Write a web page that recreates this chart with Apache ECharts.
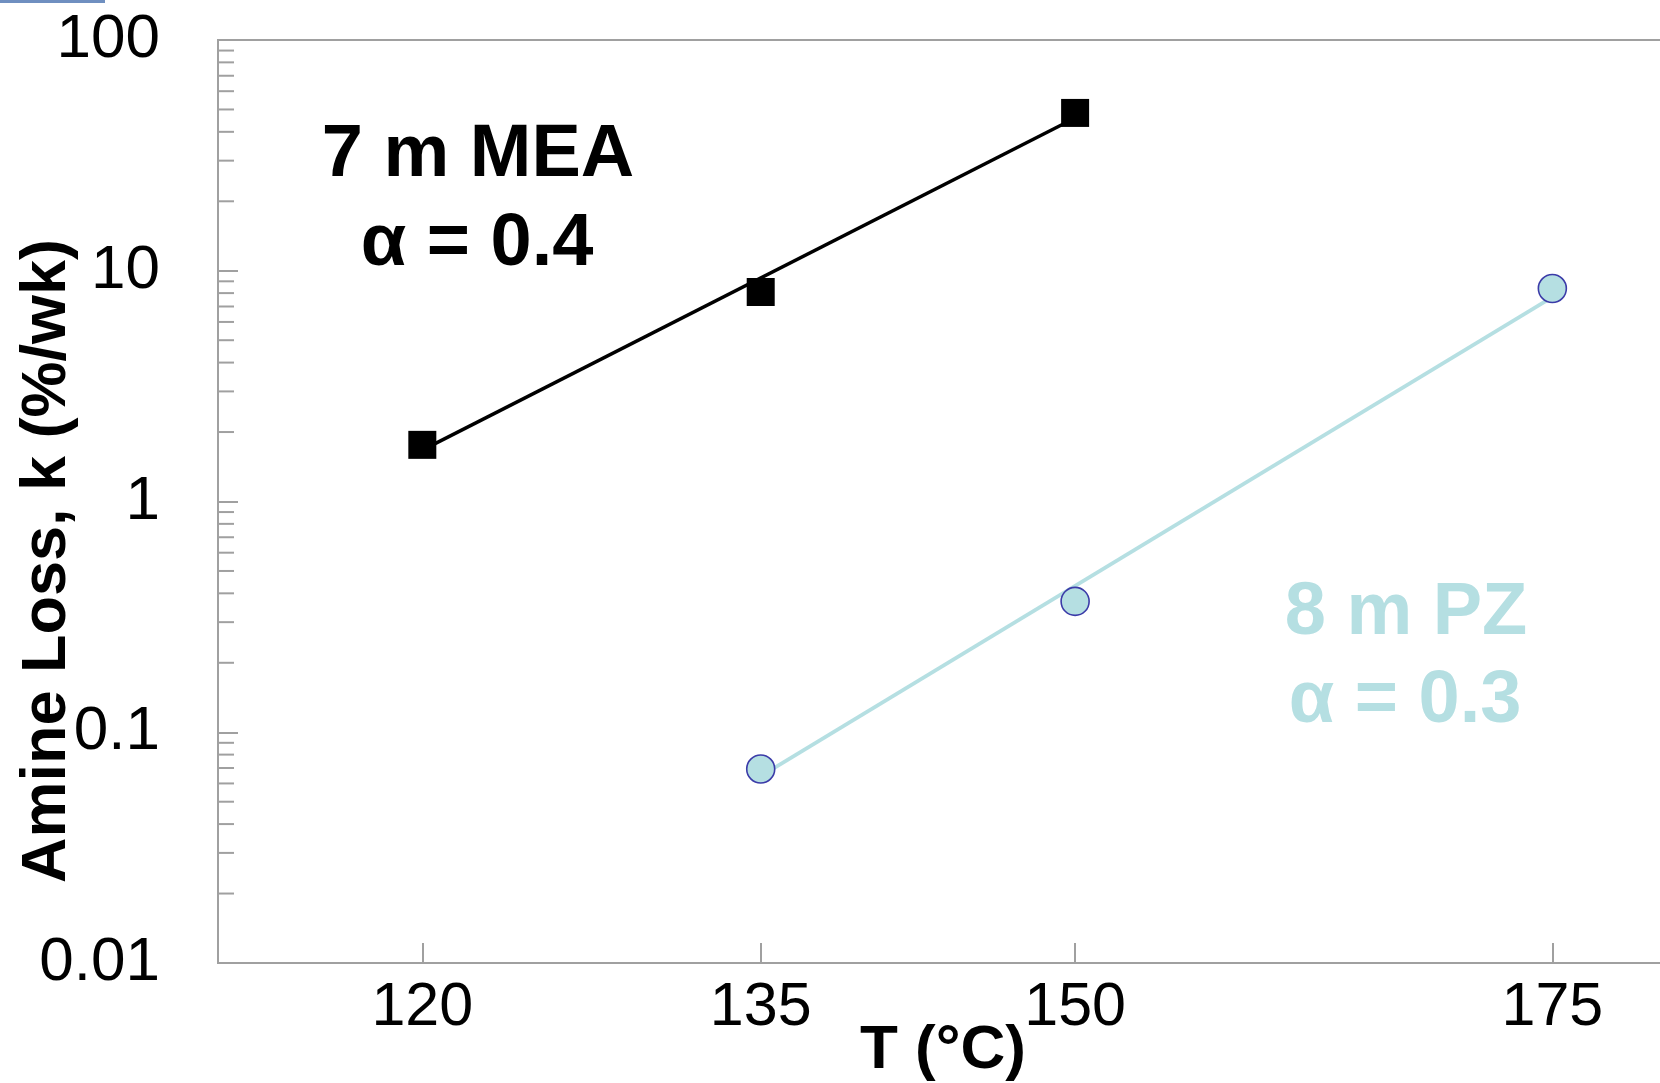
<!DOCTYPE html>
<html>
<head>
<meta charset="utf-8">
<script src="https://cdn.jsdelivr.net/npm/echarts@6/dist/echarts.min.js"></script>
<style>
html,body{margin:0;padding:0;background:#fff;}
#c{width:1660px;height:1083px;}
</style>
</head>
<body>
<div id="c"></div>
<script>
// ---- data (temperatures in °C, k in %/wk) ----
const T_MEA = [120, 135, 150];
const K_MEA = [1.76, 8.09, 48.3];
const T_PZ = [135, 150, 175];
const K_PZ = [0.0693, 0.369, 8.38];
// Arrhenius fit lines (end points)
const T_MEA_FIT = [120, 150];
const K_MEA_FIT = [1.67, 45.9];
const T_PZ_FIT = [135, 175];
const K_PZ_FIT = [0.0646, 7.69];
// tick labels
const X_TICKS = [120, 135, 150, 175];
const Y_MINOR = [0.02,0.03,0.04,0.05,0.06,0.07,0.08,0.09,
                 0.2,0.3,0.4,0.5,0.6,0.7,0.8,0.9,
                 2,3,4,5,6,7,8,9,
                 20,30,40,50,60,70,80,90];
const X_MIN = 2.2, X_MAX = 2.6;   // 1000/T(K) axis range
const Y_MIN = 0.01, Y_MAX = 100;

const toX = t => 1000 / (t + 273.15);
const pairs = (ts, ks) => ts.map((t, i) => [toX(t), ks[i]]);

const FONT = "'Liberation Sans', Arial, sans-serif";
const AXIS_GRAY = '#a0a0a0';
const PZ_COLOR = '#b5dfe2';

const chart = echarts.init(document.getElementById('c'));
chart.setOption({
  animation: false,
  backgroundColor: '#ffffff',
  grid: {
    left: 218, top: 40, bottom: 120, right: -6,
    containLabel: false, outerBoundsMode: 'none',
    show: true, borderColor: AXIS_GRAY, borderWidth: 2, backgroundColor: 'transparent'
  },
  xAxis: {
    type: 'value', min: X_MIN, max: X_MAX, inverse: true,
    axisLine: { show: true, lineStyle: { color: AXIS_GRAY, width: 2 } },
    axisTick: { show: true, inside: true, length: 20, lineStyle: { color: AXIS_GRAY, width: 2 },
                customValues: X_TICKS.map(toX) },
    axisLabel: { show: true, margin: 15, fontFamily: FONT, fontSize: 61, color: '#000',
                 customValues: X_TICKS.map(toX),
                 formatter: v => String(Math.round(1000 / v - 273.15)) },
    splitLine: { show: false }
  },
  yAxis: {
    type: 'log', logBase: 10, min: Y_MIN, max: Y_MAX,
    axisLine: { show: true, lineStyle: { color: AXIS_GRAY, width: 2 } },
    axisTick: { show: true, inside: true, length: 20, lineStyle: { color: AXIS_GRAY, width: 2 } },
    axisLabel: { show: true, margin: 58, fontFamily: FONT, fontSize: 62, color: '#000',
                 formatter: v => String(+Number(v).toPrecision(2)) },
    splitLine: { show: false },
    minorTick: { show: false }
  },
  graphic: [
    { type: 'rect', left: 0, top: 0, shape: { width: 105, height: 3 }, style: { fill: '#6f8fc0' } },
    { type: 'text', x: 48, y: 561, rotation: Math.PI / 2,
      style: { text: 'Amine Loss, k (%/wk)', font: "bold 63px " + FONT, fill: '#000',
               align: 'center', verticalAlign: 'middle' } },
    { type: 'text', x: 943, y: 1051,
      style: { text: 'T (°C)', font: "bold 62px " + FONT, fill: '#000',
               align: 'center', verticalAlign: 'middle' } },
    { type: 'text', x: 478, y: 156,
      style: { text: '7 m MEA', font: "bold 74px " + FONT, fill: '#000', align: 'center', verticalAlign: 'middle' } },
    { type: 'text', x: 477, y: 245,
      style: { text: 'α = 0.4', font: "bold 74px " + FONT, fill: '#000', align: 'center', verticalAlign: 'middle' } },
    { type: 'text', x: 1406, y: 614,
      style: { text: '8 m PZ', font: "bold 74px " + FONT, fill: PZ_COLOR, align: 'center', verticalAlign: 'middle' } },
    { type: 'text', x: 1405, y: 702,
      style: { text: 'α = 0.3', font: "bold 74px " + FONT, fill: PZ_COLOR, align: 'center', verticalAlign: 'middle' } }
  ],
  series: [
    {
      type: 'custom', silent: true, clip: false,
      data: Y_MINOR.map(v => [X_MAX, v]),
      renderItem: (params, api) => {
        const p = api.coord([api.value(0), api.value(1)]);
        return { type: 'line', shape: { x1: p[0], y1: p[1], x2: p[0] + 16, y2: p[1] },
                 style: { stroke: AXIS_GRAY, lineWidth: 2 } };
      }
    },
    {
      name: 'MEA fit', type: 'line', data: pairs(T_MEA_FIT, K_MEA_FIT),
      symbol: 'none', lineStyle: { color: '#000', width: 3.5 }, z: 2
    },
    {
      name: 'PZ fit', type: 'line', data: pairs(T_PZ_FIT, K_PZ_FIT),
      symbol: 'none', lineStyle: { color: PZ_COLOR, width: 3.8 }, z: 2
    },
    {
      name: '7 m MEA', type: 'scatter', data: pairs(T_MEA, K_MEA),
      symbol: 'rect', symbolSize: 28, itemStyle: { color: '#000', opacity: 1 }, z: 3
    },
    {
      name: '8 m PZ', type: 'scatter', data: pairs(T_PZ, K_PZ),
      symbol: 'circle', symbolSize: 28,
      itemStyle: { color: PZ_COLOR, borderColor: '#3b3ba8', borderWidth: 1.6, opacity: 1 }, z: 3
    }
  ]
});
</script>
</body>
</html>
